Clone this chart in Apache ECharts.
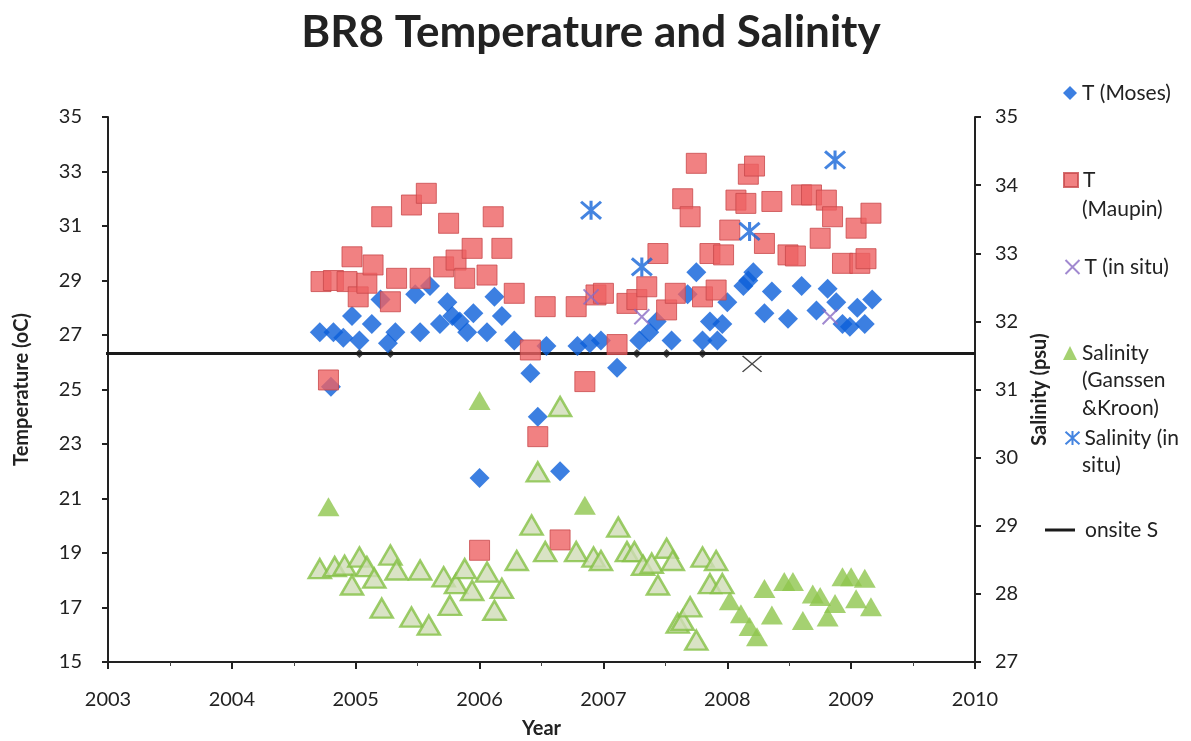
<!DOCTYPE html>
<html><head><meta charset="utf-8">
<script src="https://cdn.jsdelivr.net/npm/echarts@6/dist/echarts.min.js"></script>
<style>html,body{margin:0;padding:0;background:#fff}#c{width:1191px;height:741px}</style>
</head><body><div id="c"></div>
<script>
// ---- data ----
const yearRange = [2003, 2010];
const tempRange = [15, 35];
const salRange = [27, 35];

const tMoses = [[2004.71,27.1],[2004.80,25.1],[2004.82,27.1],[2004.90,26.9],[2004.97,27.7],[2005.03,26.8],[2005.13,27.4],[2005.20,28.3],[2005.26,26.7],[2005.32,27.1],[2005.48,28.5],[2005.52,27.1],[2005.60,28.8],[2005.68,27.4],[2005.74,28.2],[2005.78,27.7],[2005.84,27.5],[2005.90,27.1],[2005.95,27.8],[2006.00,21.75],[2006.06,27.1],[2006.12,28.4],[2006.18,27.7],[2006.28,26.8],[2006.41,25.6],[2006.47,24.0],[2006.54,26.6],[2006.65,22.0],[2006.79,26.6],[2006.89,26.7],[2006.98,26.8],[2007.11,25.8],[2007.29,26.8],[2007.37,27.1],[2007.43,27.5],[2007.55,26.8],[2007.68,28.5],[2007.75,29.3],[2007.80,26.8],[2007.86,27.5],[2007.92,26.8],[2007.96,27.4],[2008.00,28.2],[2008.13,28.8],[2008.17,29.0],[2008.21,29.3],[2008.30,27.8],[2008.36,28.6],[2008.49,27.6],[2008.60,28.8],[2008.72,27.9],[2008.81,28.7],[2008.88,28.2],[2008.93,27.4],[2008.99,27.3],[2009.05,28.0],[2009.11,27.4],[2009.17,28.3]];

const tMaupin = [[2004.72,28.96],[2004.78,25.35],[2004.82,29.0],[2004.93,28.96],[2004.97,29.87],[2005.02,28.4],[2005.09,28.9],[2005.14,29.57],[2005.21,31.34],[2005.28,28.22],[2005.33,29.08],[2005.45,31.77],[2005.52,29.08],[2005.57,32.2],[2005.71,29.5],[2005.75,31.1],[2005.81,29.75],[2005.88,29.08],[2005.94,30.18],[2006.00,19.1],[2006.06,29.2],[2006.11,31.34],[2006.18,30.18],[2006.28,28.53],[2006.41,26.45],[2006.47,23.27],[2006.53,28.04],[2006.65,19.48],[2006.78,28.04],[2006.85,25.29],[2006.94,28.47],[2007.00,28.53],[2007.11,26.65],[2007.19,28.16],[2007.27,28.3],[2007.35,28.77],[2007.44,29.99],[2007.51,27.92],[2007.58,28.53],[2007.64,32.0],[2007.70,31.34],[2007.75,33.3],[2007.80,28.4],[2007.86,29.99],[2007.91,28.65],[2007.97,29.94],[2008.02,30.85],[2008.07,31.95],[2008.15,31.83],[2008.17,32.9],[2008.22,33.2],[2008.30,30.36],[2008.36,31.9],[2008.49,29.94],[2008.55,29.9],[2008.60,32.14],[2008.68,32.14],[2008.75,30.55],[2008.80,31.95],[2008.85,31.34],[2008.93,29.63],[2009.04,30.92],[2009.07,29.63],[2009.12,29.8],[2009.16,31.47]];

const tInSitu = [[2006.90,28.4],[2007.31,27.67],[2008.83,27.67]];
const tInSituDark = [[2008.20,25.94]];

const salGKSolid = [[2004.78,29.28],[2006.00,30.84],[2006.85,29.30],[2008.02,27.90],[2008.11,27.71],[2008.18,27.52],[2008.24,27.37],[2008.30,28.08],[2008.36,27.69],[2008.46,28.18],[2008.53,28.18],[2008.61,27.61],[2008.69,28.0],[2008.75,27.96],[2008.81,27.66],[2008.87,27.86],[2008.93,28.25],[2009.00,28.25],[2009.04,27.93],[2009.11,28.23],[2009.16,27.81]];

const salGKHatched = [[2004.71,28.37],[2004.83,28.40],[2004.91,28.42],[2004.97,28.13],[2005.03,28.54],[2005.09,28.40],[2005.15,28.23],[2005.21,27.79],[2005.28,28.57],[2005.33,28.35],[2005.45,27.66],[2005.52,28.35],[2005.59,27.54],[2005.71,28.25],[2005.76,27.83],[2005.81,28.15],[2005.88,28.37],[2005.94,28.05],[2006.06,28.32],[2006.12,27.76],[2006.18,28.08],[2006.30,28.49],[2006.42,29.01],[2006.47,29.79],[2006.53,28.62],[2006.65,30.75],[2006.78,28.62],[2006.92,28.54],[2006.98,28.49],[2007.12,28.98],[2007.19,28.62],[2007.25,28.62],[2007.32,28.42],[2007.39,28.45],[2007.44,28.13],[2007.51,28.67],[2007.56,28.49],[2007.60,27.57],[2007.64,27.61],[2007.70,27.81],[2007.75,27.32],[2007.80,28.54],[2007.86,28.15],[2007.91,28.49],[2007.96,28.15]];

const salInSitu = [[2006.90,33.63],[2007.31,32.80],[2008.18,33.32],[2008.87,34.37]];

const onsiteS = 31.53;
const onsiteLineYears = [2002.21, 2010];
const onsiteMarkerYears = [2005.03, 2005.28, 2007.27, 2007.51, 2007.80];

const legendLines = [
  ['T (Moses)'],
  ['T', '(Maupin)'],
  ['T (in situ)'],
  ['Salinity', '(Ganssen', '&Kroon)'],
  ['Salinity (in', 'situ)'],
  ['onsite S']
];
// ---- end data ----

const names = legendLines.map(l => l.join(' '));
const firstLine = {};
legendLines.forEach((l, i) => firstLine[names[i]] = l[0]);

const FONT = 'Lato, "Open Sans", sans-serif';
const LFS = 21;
const legendY = [93, 180, 267, 353, 438, 530];
const contY = {1: [211], 3: [382, 410], 4: [467]};

const legends = names.map((n, i) => ({
  data: i === 5 ? [{name: n, icon: 'rect'}] : [n],
  left: i === 5 ? 1045 : 1063,
  top: legendY[i] - 12,
  padding: 0,
  itemWidth: i === 5 ? 30 : 14,
  itemHeight: i === 5 ? 3 : 14,
  itemGap: 0,
  selectedMode: false,
  textStyle: {fontSize: LFS, lineHeight: 24, color: '#222', fontFamily: FONT, padding: i === 5 ? [0,0,0,5] : 0},
  formatter: name => firstLine[name]
}));

const graphics = [];
Object.keys(contY).forEach(k => {
  contY[k].forEach((y, j) => {
    graphics.push({type: 'text', left: 1082, top: y - 12,
      style: {text: legendLines[k][j + 1], font: LFS + 'px ' + FONT, fill: '#222'}});
  });
});

const xMark = 'path://M0,0L20,20M20,0L0,20';
const star = 'path://M0,1L20,19M20,1L0,19M10,0L10,20';

const chart = echarts.init(document.getElementById('c'));
chart.setOption({
  animation: false,
  backgroundColor: '#fff',
  title: {
    text: 'BR8 Temperature and Salinity',
    left: 586, top: 6, textAlign: 'center',
    textStyle: {fontSize: 44, fontWeight: 'bold', color: '#222', fontFamily: FONT}
  },
  legend: legends,
  graphic: graphics,
  grid: {left: 108, top: 117, width: 867, height: 545, containLabel: false, outerBoundsMode: 'none'},
  xAxis: {
    type: 'value', min: yearRange[0], max: yearRange[1], interval: 1,
    name: 'Year', nameLocation: 'middle', nameGap: 57,
    nameTextStyle: {fontSize: 20, fontWeight: 'bold', color: '#222', fontFamily: FONT},
    axisLine: {lineStyle: {color: '#222', width: 2}},
    axisTick: {length: 7, lineStyle: {color: '#222', width: 2}},
    minorTick: {show: true, splitNumber: 2, length: 4, lineStyle: {color: '#444'}},
    splitLine: {show: false},
    axisLabel: {fontSize: 20, color: '#222', fontFamily: FONT, margin: 28, formatter: v => String(v)}
  },
  yAxis: [{
    type: 'value', min: tempRange[0], max: tempRange[1], interval: 2,
    name: 'Temperature (oC)', nameLocation: 'middle', nameGap: 76,
    nameTextStyle: {fontSize: 20, fontWeight: 'bold', color: '#222', fontFamily: FONT},
    axisLine: {show: true, lineStyle: {color: '#222', width: 2}},
    axisTick: {show: true, length: 6, lineStyle: {color: '#222', width: 2}},
    splitLine: {show: false},
    axisLabel: {fontSize: 20, color: '#222', fontFamily: FONT, margin: 26}
  }, {
    type: 'value', min: salRange[0], max: salRange[1], interval: 1, position: 'right',
    name: 'Salinity (psu)', nameLocation: 'middle', nameGap: 30, nameRotate: 90,
    nameTextStyle: {fontSize: 20, fontWeight: 'bold', color: '#222', fontFamily: FONT},
    axisLine: {show: true, lineStyle: {color: '#222', width: 2}},
    axisTick: {show: true, length: 6, lineStyle: {color: '#222', width: 2}},
    splitLine: {show: false},
    axisLabel: {fontSize: 20, color: '#222', fontFamily: FONT, margin: 20}
  }],
  series: [
    {name: names[5], type: 'line', yAxisIndex: 1, clip: false, symbol: 'none', z: 1,
     data: onsiteLineYears.map(y => [y, onsiteS]),
     lineStyle: {color: '#1a1a1a', width: 3}, itemStyle: {color: '#1a1a1a'}},
    {name: 'onsite markers', type: 'scatter', yAxisIndex: 1, symbol: 'diamond', symbolSize: 9, z: 1,
     data: onsiteMarkerYears.map(y => [y, onsiteS]), itemStyle: {color: '#1a1a1a'}},
    {name: names[0], type: 'scatter', symbol: 'diamond', symbolSize: 20, z: 2,
     data: tMoses, itemStyle: {color: '#0b5fd9'}},
    {name: names[1], type: 'scatter', symbol: 'rect', symbolSize: 20, z: 3,
     data: tMaupin, itemStyle: {color: '#ee6163', borderColor: '#c8494b', borderWidth: 1}},
    {name: names[2], type: 'scatter', symbol: xMark, symbolSize: 15, z: 4,
     data: tInSitu, itemStyle: {color: 'none', borderColor: '#8a6bc4', borderWidth: 2}},
    {name: names[2], type: 'scatter', symbol: xMark, symbolSize: [19, 16], z: 4,
     data: tInSituDark, itemStyle: {color: 'none', borderColor: '#1a1a1a', borderWidth: 1.5}},
    {name: names[3], type: 'scatter', yAxisIndex: 1, symbol: 'triangle', symbolSize: [22, 19], z: 3,
     data: salGKSolid, itemStyle: {color: '#8ec64e'}},
    {name: names[3], type: 'scatter', yAxisIndex: 1, symbol: 'triangle', symbolSize: [22, 19], z: 3,
     data: salGKHatched, itemStyle: {color: '#cfdcb6', borderColor: '#84c045', borderWidth: 2.5}},
    {name: names[4], type: 'scatter', yAxisIndex: 1, symbol: star, symbolSize: [20, 19], z: 5,
     data: salInSitu, itemStyle: {color: 'none', borderColor: '#1565d8', borderWidth: 3}}
  ]
});
</script>
</body></html>
